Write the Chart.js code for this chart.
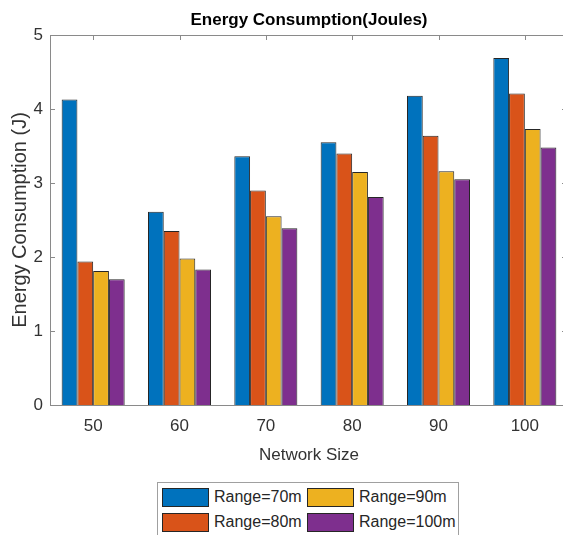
<!DOCTYPE html>
<html>
<head>
<meta charset="utf-8">
<script src="https://cdn.jsdelivr.net/npm/chart.js@4.4.1/dist/chart.umd.min.js"></script>
<style>
  html, body { margin: 0; padding: 0; background: #fff; overflow: hidden; }
  #wrap { position: relative; width: 563px; height: 535px; }
  #myChartBar { position: absolute; left: 0; top: 0; }
  #legend {
    position: absolute; left: 157px; top: 482px; width: 302px; height: 70px;
    border: 1px solid #a0a0a0; box-sizing: border-box;
    display: grid; grid-auto-flow: column;
    grid-template-rows: 25px 25px; grid-template-columns: 145px 150px;
    padding: 4px 0 0 4px;
    font-family: "Liberation Sans", Arial, sans-serif; font-size: 16px; color: #262626;
  }
  #legend .item { display: flex; align-items: center; height: 20px; }
  #legend .box {
    width: 47px; height: 19px; box-sizing: border-box;
    border: 1px solid #262626; margin-right: 5px;
  }
</style>
</head>
<body>
<div id="wrap">
  <canvas id="myChartBar" width="568" height="470"></canvas>
  <div id="legend"></div>
</div>
<script>
// network sizes on the x axis
var sizes = ['50', '60', '70', '80', '90', '100'];
// energy (J) for each transmission range
var range70 = [4.13, 2.61, 3.36, 3.55, 4.18, 4.69];
var range80 = [1.94, 2.35, 2.90, 3.40, 3.64, 4.21];
var range90 = [1.81, 1.98, 2.55, 3.15, 3.16, 3.73];
var range100 = [1.70, 1.83, 2.39, 2.81, 3.05, 3.48];
var yTicks = [0, 1, 2, 3, 4, 5];

var fontFamily = '"Liberation Sans", Arial, sans-serif';

// MATLAB style box around the plot with inward tick marks
var axisBox = {
    id: 'axisBox',
    afterDatasetsDraw: function(chart) {
        var ctx = chart.ctx, a = chart.chartArea;
        var x = chart.scales.x, y = chart.scales.y;
        ctx.save();
        ctx.strokeStyle = '#8a8a8a';
        ctx.lineWidth = 1;
        ctx.strokeRect(a.left + 0.5, a.top + 0.5, a.right - a.left - 1, a.bottom - a.top);
        ctx.beginPath();
        x.ticks.forEach(function(t, i) {
            var px = Math.round(x.getPixelForTick(i)) + 0.5;
            ctx.moveTo(px, a.top);
            ctx.lineTo(px, a.top + 5);
        });
        y.ticks.forEach(function(t) {
            var py = Math.round(y.getPixelForValue(t.value)) + 0.5;
            ctx.moveTo(a.left, py);
            ctx.lineTo(a.left + 5, py);
            ctx.moveTo(a.right - 1, py);
            ctx.lineTo(a.right - 6, py);
        });
        ctx.stroke();
        ctx.restore();
    }
};

function bars(label, color, data) {
    return {
        label: label,
        backgroundColor: color,
        borderColor: '#262626',
        borderWidth: 1,
        borderSkipped: 'bottom',
        categoryPercentage: 0.73,
        barPercentage: 1.0,
        data: data
    };
}

var ctx = document.getElementById('myChartBar').getContext('2d');
var myChartBar = new Chart(ctx, {
    type: 'bar',
    data: {
        labels: sizes,
        datasets: [
            bars('Range=70m', '#0072BD', range70),
            bars('Range=80m', '#D95319', range80),
            bars('Range=90m', '#EDB120', range90),
            bars('Range=100m', '#7E2F8E', range100)
        ]
    },
    options: {
        responsive: false,
        animation: false,
        devicePixelRatio: 1,
        layout: { padding: 0 },
        plugins: {
            legend: { display: false },
            tooltip: { enabled: false },
            title: {
                display: true,
                fullSize: false,
                text: 'Energy Consumption(Joules)',
                color: '#000',
                font: { family: fontFamily, size: 17, weight: 'bold' },
                padding: { top: 10, bottom: 4.6 }
            }
        },
        scales: {
            x: {
                grid: { display: false, drawTicks: false },
                border: { display: false },
                ticks: {
                    color: '#333',
                    padding: 11.5,
                    font: { family: fontFamily, size: 17 }
                },
                title: {
                    display: true,
                    text: 'Network Size',
                    color: '#333',
                    font: { family: fontFamily, size: 17 },
                    padding: { top: 0, bottom: 4.8 }
                },
                afterFit: function(scale) { scale.height = 65; }
            },
            y: {
                min: 0,
                max: 5,
                grid: { display: false, drawTicks: false },
                border: { display: false },
                afterBuildTicks: function(scale) {
                    scale.ticks = yTicks.map(function(v) { return { value: v }; });
                },
                ticks: {
                    color: '#333',
                    padding: 7,
                    font: { family: fontFamily, size: 17 }
                },
                title: {
                    display: true,
                    text: 'Energy Consumption (J)',
                    color: '#333',
                    font: { family: fontFamily, size: 20 },
                    padding: { top: 8, bottom: 0 }
                },
                afterFit: function(scale) { scale.width = 50; }
            }
        }
    },
    plugins: [axisBox]
});

// two-column legend below the plot, built from the datasets
var legendEl = document.getElementById('legend');
myChartBar.data.datasets.forEach(function(ds) {
    var item = document.createElement('div');
    item.className = 'item';
    var box = document.createElement('span');
    box.className = 'box';
    box.style.background = ds.backgroundColor;
    item.appendChild(box);
    item.appendChild(document.createTextNode(ds.label));
    legendEl.appendChild(item);
});
</script>
</body>
</html>
